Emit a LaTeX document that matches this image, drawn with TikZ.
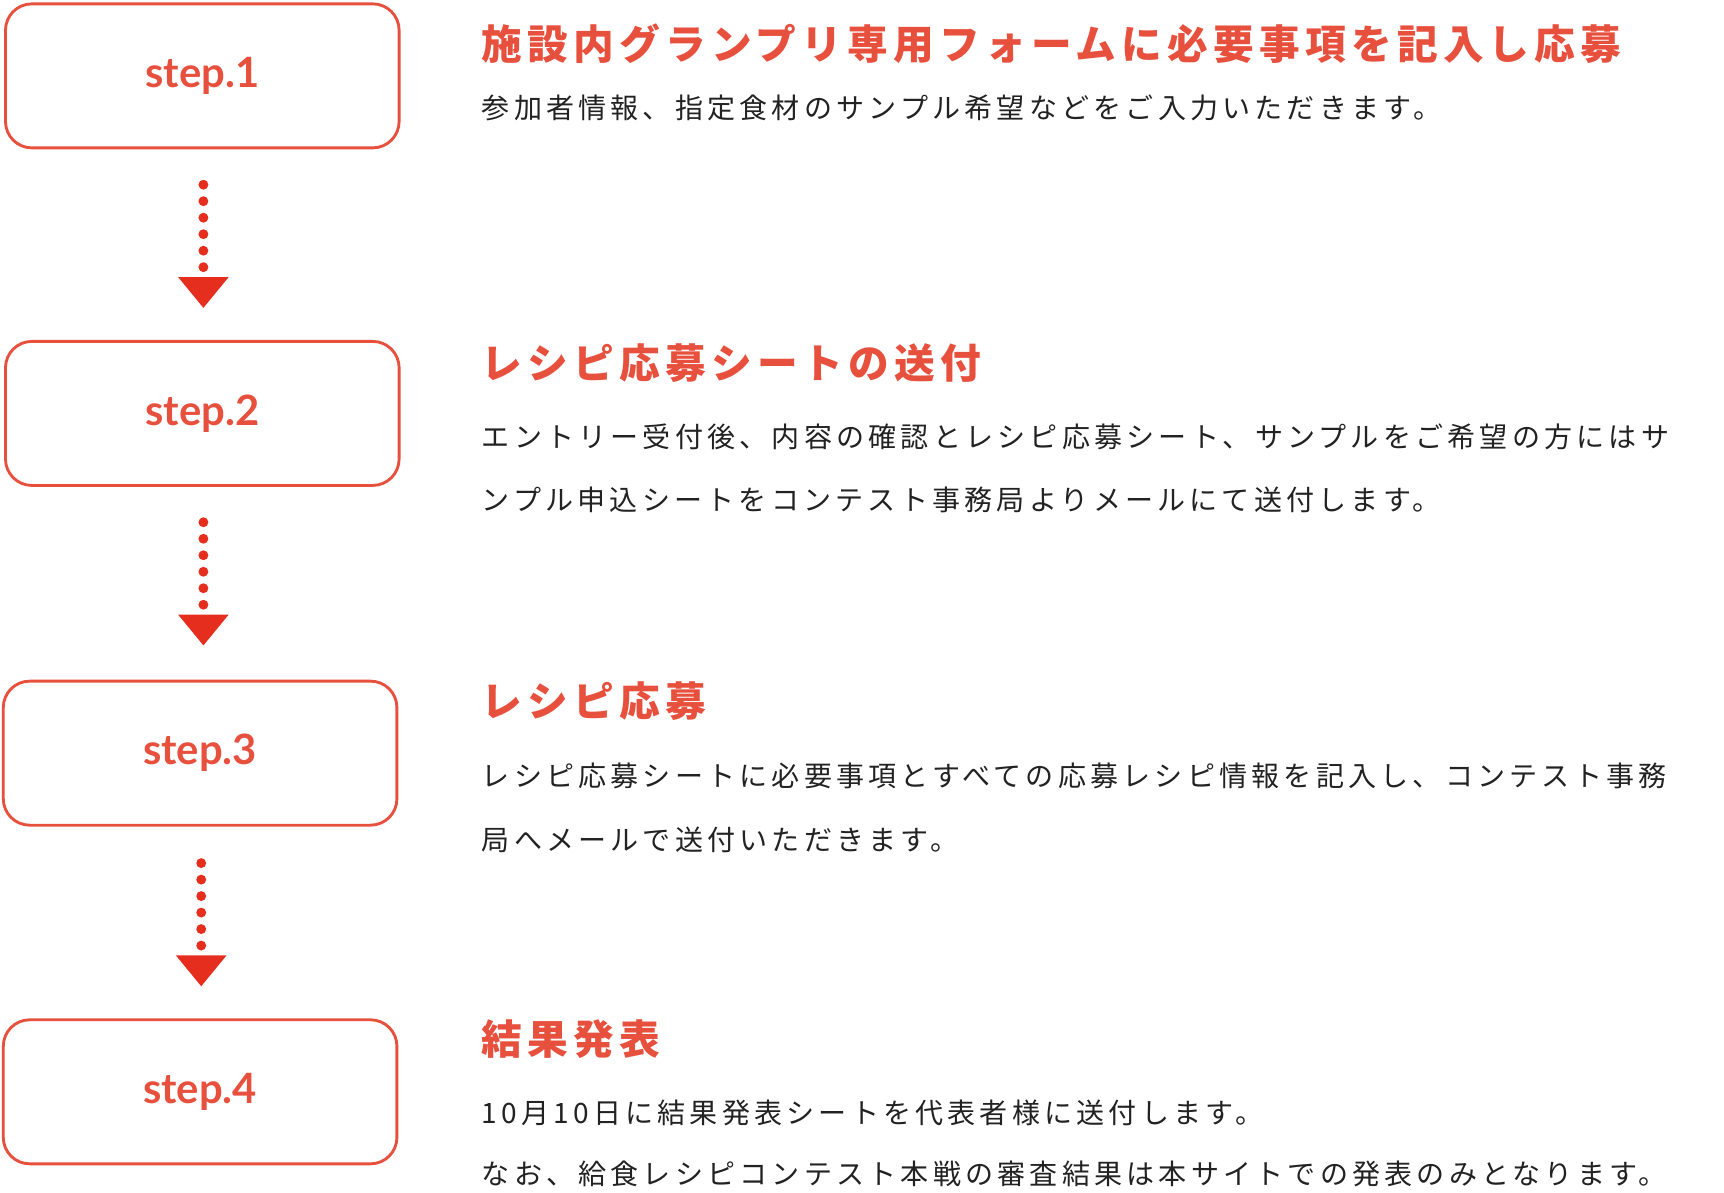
\documentclass[tikz,border=0pt]{standalone}
\usepackage{fontspec}
\setmainfont{Lato}
\newfontfamily\cjk{Noto Sans CJK JP}
\newfontfamily\cjkt[LetterSpace=12.8]{Noto Sans CJK JP}
\newfontfamily\cjkb[LetterSpace=15]{Noto Sans CJK JP}
\definecolor{boxred}{HTML}{E8503E}
\definecolor{arrred}{HTML}{E62E1E}
\definecolor{txt}{HTML}{222222}
\begin{document}
\begin{tikzpicture}[x=1pt,y=-1pt,
  stepbox/.style={draw=boxred,line width=2.6pt,rounded corners=24pt,minimum width=358pt,minimum height=131pt,text=boxred,font=\fontsize{38}{38}\selectfont\bfseries},
  ttl/.style={anchor=west,inner sep=0,text=boxred,font=\fontsize{37}{37}\selectfont\cjkt\bfseries},
  bdy/.style={anchor=west,inner sep=0,text=txt,font=\fontsize{25.5}{25.5}\selectfont\cjkb},
  dotl/.style={arrred,line width=9pt,line cap=round,dash pattern=on 0pt off 15pt},
  tri/.style={fill=arrred}]
\useasboundingbox (0,0) rectangle (1568,1085);
\node[stepbox] (s1) at (184,69) {step.1};
\node[stepbox] (s2) at (184,376) {step.2};
\node[stepbox] (s3) at (182,685) {step.3};
\node[stepbox] (s4) at (182,993) {step.4};
\foreach \x/\y in {185/168,185/475,183/785}{
  \draw[dotl] (\x,\y) -- (\x,\y+80);
  \fill[tri] (\x-23,\y+84) -- (\x+23,\y+84) -- (\x,\y+112) -- cycle;
}
\node[ttl] (t1) at (438,40) {施設内グランプリ専用フォームに必要事項を記入し応募};
\node[bdy] (b1) at (438,98) {参加者情報、指定食材のサンプル希望などをご入力いただきます。};
\node[ttl] (t2) at (438,330) {レシピ応募シートの送付};
\node[bdy] (b2) at (438,397) {エントリー受付後、内容の確認とレシピ応募シート、サンプルをご希望の方にはサ};
\node[bdy] (b2b) at (438,455) {ンプル申込シートをコンテスト事務局よりメールにて送付します。};
\node[ttl] (t3) at (438,638) {レシピ応募};
\node[bdy] (b3) at (438,706) {レシピ応募シートに必要事項とすべての応募レシピ情報を記入し、コンテスト事務};
\node[bdy] (b3b) at (438,764) {局へメールで送付いただきます。};
\node[ttl] (t4) at (438,945) {結果発表};
\node[bdy] (b4) at (438,1012) {10月10日に結果発表シートを代表者様に送付します。};
\node[bdy] (b4b) at (438,1068) {なお、給食レシピコンテスト本戦の審査結果は本サイトでの発表のみとなります。};
\end{tikzpicture}
\end{document}
